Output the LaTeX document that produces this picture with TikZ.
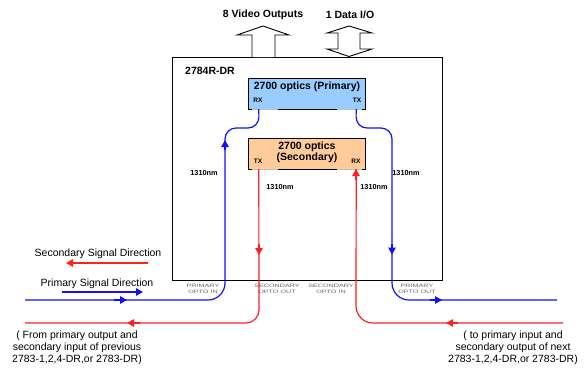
\documentclass[tikz,border=0pt]{standalone}
\usepackage{fontspec}
\setmainfont{Liberation Sans}
\newfontfamily\widefont[FakeStretch=1.5]{Liberation Sans}
\usetikzlibrary{arrows.meta}
\definecolor{primfill}{HTML}{99CCFF}
\definecolor{secfill}{HTML}{FFCC99}
\definecolor{sred}{HTML}{FF2020}
\definecolor{pblue}{HTML}{1010FF}
\begin{document}
\begin{tikzpicture}[x=1pt,y=-1pt,
  pline/.style={pblue,line width=1.2pt},
  sline/.style={sred,line width=1.2pt},
  tipmark/.style={-{Triangle[length=7pt,width=7.5pt]}},
  bigl/.style={font=\bfseries\fontsize{10.5}{12}\selectfont,inner sep=0},
  rxtx/.style={font=\bfseries\fontsize{6.5}{7}\selectfont,inner sep=0},
  nm/.style={font=\bfseries\fontsize{7.3}{8}\selectfont,inner sep=0},
  tiny/.style={font=\widefont\fontsize{4.8}{5.8}\selectfont,text=black!60,align=center,inner sep=0},
  note/.style={font=\fontsize{10.5}{11.8}\selectfont,align=center,inner sep=0},
  optobox/.style={minimum width=116pt,minimum height=30pt,inner sep=0},
  hollow/.style={draw=black,line width=0.9pt,fill=white}
]
\useasboundingbox (0,0) rectangle (587,368);

% main unit box
\node[draw,line width=1.2pt,minimum width=270pt,minimum height=223pt,inner sep=0,anchor=north west] (unit) at (172,57) {};
\node[bigl,anchor=west] (unitname) at (185,71) {2784R-DR};

% top arrows
\draw[hollow] (252,57) -- (252,35) -- (237,35) -- (263,26) -- (289,35) -- (275,35) -- (275,57);
\draw[hollow] (338,49) -- (338,33) -- (327,33) -- (349,26) -- (372,33) -- (360,33) -- (360,49) -- (372,49) -- (349,56.5) -- (327,49) -- cycle;
\node[bigl] (vidout) at (263,15) {8 Video Outputs};
\node[bigl] (dataio) at (350,15) {1 Data I/O};

% primary optics
\node[optobox,fill=primfill] (prim) at (307,94) {};
\draw[line width=1pt] ([xshift=3pt]prim.south west) -- (prim.south west) -- (prim.north west) -- (prim.north east) -- (prim.south east) -- ([xshift=-3pt]prim.south east);
\draw[line width=1pt] ([xshift=29pt]prim.south west) -- ([xshift=-28pt]prim.south east);
\draw[black!25,line width=0.8pt] ([xshift=3pt]prim.south west) -- ([xshift=29pt]prim.south west);
\draw[black!25,line width=0.8pt] ([xshift=-28pt]prim.south east) -- ([xshift=-3pt]prim.south east);
\node[bigl] (primt) at (307,87) {2700 optics (Primary)};
\node[rxtx] (primrx) at (258,100.5) {RX};
\node[rxtx] (primtx) at (357,100.5) {TX};

% secondary optics
\node[optobox,fill=secfill] (sec) at (307,154) {};
\draw[line width=1pt] ([xshift=3pt]sec.south west) -- (sec.south west) -- (sec.north west) -- (sec.north east) -- (sec.south east) -- ([xshift=-3pt]sec.south east);
\draw[line width=1pt] ([xshift=29pt]sec.south west) -- ([xshift=-28pt]sec.south east);
\draw[black!25,line width=0.8pt] ([xshift=3pt]sec.south west) -- ([xshift=29pt]sec.south west);
\draw[black!25,line width=0.8pt] ([xshift=-28pt]sec.south east) -- ([xshift=-3pt]sec.south east);
\node[bigl,align=center,font=\bfseries\fontsize{10.5}{11.5}\selectfont] (sect) at (307,152.5) {2700 optics\\(Secondary)};
\node[rxtx] (sectx) at (258,161) {TX};
\node[rxtx] (secrx) at (356,161) {RX};

% free ends
\coordinate (pin) at (25,300);
\coordinate (pout) at (557,300);
\coordinate (sout) at (25,323);
\coordinate (sin) at (563,323);

% primary (blue) paths
\draw[pline,rounded corners=11pt] ([xshift=10pt]prim.south west) -- (259,128) -- (225,128) [rounded corners=17pt] -- (225,300) -- (pin);
\draw[pline,rounded corners=11pt] ([xshift=-9pt]prim.south east) -- (356,128) -- (392,128) [rounded corners=17pt] -- (392,300) -- (pout);
% secondary (red) paths
\draw[sline,rounded corners=13pt] ([xshift=10pt]sec.south west) -- (259,323) -- (sout);
\draw[sline,rounded corners=17pt] (sin) -- (356,323) -- ([xshift=-9pt]sec.south east);

% direction markers
\draw[pline,tipmark] (225,150) -- (225,140);
\draw[pline,tipmark] (114,300) -- (127,300);
\draw[pline,tipmark] (392,244) -- (392,254.5);
\draw[pline,tipmark] (430,300) -- (442,300);
\draw[sline,tipmark] (259,244) -- (259,255);
\draw[sline,tipmark] (140,323) -- (127,323);
\draw[sline,tipmark] (356,180) -- (356,169);
\draw[sline,tipmark] (458,323) -- (446,323);

% wavelength labels
\node[nm] (nm1) at (204,173) {1310nm};
\node[nm] (nm2) at (280,187) {1310nm};
\node[nm] (nm3) at (374,187) {1310nm};
\node[nm] (nm4) at (406,173) {1310nm};

% port labels
\node[tiny] (p1) at (203,289) {PRIMARY\\OPTO IN};
\node[tiny] (p2) at (277,289) {SECONDARY\\OPTO OUT};
\node[tiny] (p3) at (331,289) {SECONDARY\\OPTO IN};
\node[tiny] (p4) at (417,289) {PRIMARY\\OPTO OUT};

% legend
\node[note] (leg1) at (98,254) {Secondary Signal Direction};
\coordinate (l1a) at (148,263);
\coordinate (l1b) at (66,263);
\draw[sline,tipmark] (l1a) -- (l1b);
\node[note] (leg2) at (97,284) {Primary Signal Direction};
\coordinate (l2a) at (62,292);
\coordinate (l2b) at (143,292);
\draw[pline,tipmark] (l2a) -- (l2b);

% notes
\node[note] (noteL) at (77,348) {( From primary output and\\secondary input of previous\\2783-1,2,4-DR,or 2783-DR)};
\node[note] (noteR) at (513,348) {( to primary input and\\secondary output of next\\2783-1,2,4-DR,or 2783-DR)};
\end{tikzpicture}
\end{document}
